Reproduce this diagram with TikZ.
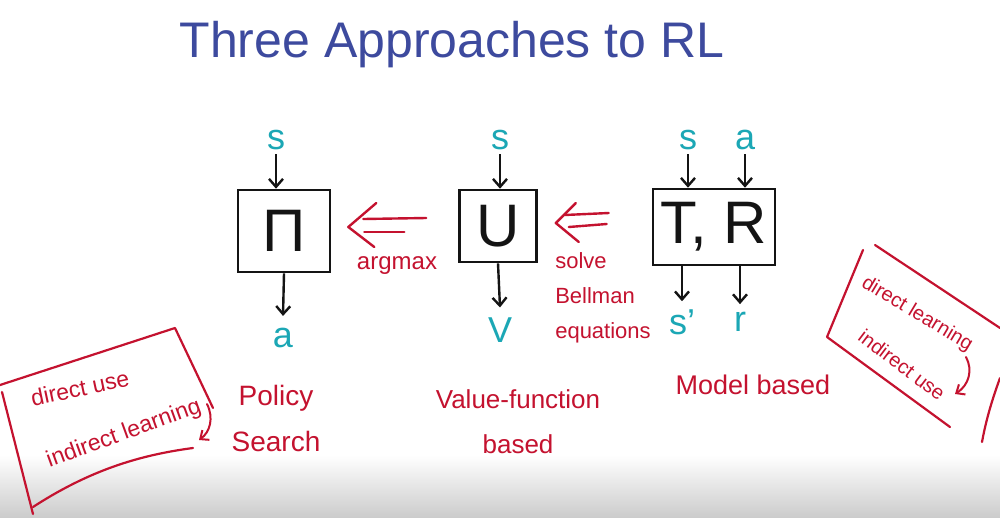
\documentclass[tikz,border=0pt]{standalone}
\usepackage{fontspec}
\setmainfont{Liberation Sans}
\usetikzlibrary{arrows.meta}
\definecolor{pen}{HTML}{141414}
\definecolor{inkred}{HTML}{C4122F}
\definecolor{inkcyan}{HTML}{1BA7B5}
\definecolor{inkblue}{HTML}{3D4A9E}
\begin{document}
\begin{tikzpicture}[x=1pt,y=-1pt,
  box/.style={draw=pen, line width=2.6pt, inner sep=0pt, text=pen, font=\fontsize{60}{60}\selectfont},
  var/.style={text=inkcyan, font=\fontsize{36}{36}\selectfont, inner sep=4pt},
  note/.style={text=inkred, align=center},
  arr/.style={draw=pen, line width=2.4pt, -{Straight Barb[length=8pt,width=14pt]}},
  dblline/.style={draw=inkred, line width=2.4pt, line cap=round, line join=round},
  frame/.style={draw=inkred, line width=2.2pt, line cap=round, line join=round},
  hook/.style={draw=inkred, line width=2pt, line cap=round, -{Straight Barb[length=7pt,width=12pt]}}]
\useasboundingbox (0,0) rectangle (1000,517);
\fill[white] (0,0) rectangle (1000,517);
\shade[top color=white, bottom color=black!20] (0,455) rectangle (1000,517);

% title
\node[text=inkblue, font=\fontsize{50}{50}\selectfont] (title) at (452,45) {Three Approaches to RL};

% boxes
\node[box, minimum width=92pt, minimum height=82pt] (pi) at (284,231) {Π};
\node[box, minimum width=77pt, minimum height=72pt] (U) at (498,226) {U};
\node[box, minimum width=122pt, minimum height=76pt] (TR) at (714,227) {T, R};

% inputs / outputs
\node[var] (s1) at (276,140) {s};
\node[var] (a1) at (283,338) {a};
\node[var] (s2) at (500,140) {s};
\node[var] (v2) at (500,330) {V};
\node[var] (s3) at (688,140) {s};
\node[var] (a3) at (745,140) {a};
\node[var] (s4) at (682,322) {s'};
\node[var] (r4) at (740,322) {r};

\draw[arr] (s1.south) -- (s1.south |- pi.north);
\draw[arr] (pi.south) -- ([yshift=8pt]a1.north);
\draw[arr] (s2.south) -- (s2.south |- U.north);
\draw[arr] (U.south) -- ([yshift=6pt]v2.north);
\draw[arr] (s3.south) -- (s3.south |- TR.north);
\draw[arr] (a3.south) -- (a3.south |- TR.north);
\draw[arr] (s4.north |- TR.south) -- ([yshift=4pt]s4.north);
\draw[arr] (r4.north |- TR.south) -- ([yshift=4pt]r4.north);

% double arrows (U => Pi, T,R => U)
\coordinate (t1) at ([xshift=17pt,yshift=4pt]pi.east);
\draw[dblline] ([shift={(28,-24)}]t1) -- (t1) -- ([shift={(26,20)}]t1);
\draw[dblline] ([shift={(15,-8)}]t1) -- ([xshift=-32pt,yshift=8pt]U.west);
\draw[dblline] ([shift={(16,5)}]t1) -- ([shift={(56,5)}]t1);
\coordinate (t2) at ([xshift=18pt,yshift=3pt]U.east);
\draw[dblline] ([shift={(20,-20)}]t2) -- (t2) -- ([shift={(23,19)}]t2);
\draw[dblline] ([shift={(9,-8)}]t2) -- ([xshift=-43pt,yshift=14pt]TR.west);
\draw[dblline] ([shift={(13,4)}]t2) -- ([xshift=-45pt,yshift=3pt]TR.west);

% red labels
\node[note, font=\fontsize{24}{24}\selectfont] (argmax) at (397,266) {argmax};
\node[note, font=\fontsize{22}{35}\selectfont, align=left] (bell) at (603,298) {solve\\Bellman\\equations};
\node[note, font=\fontsize{28}{46}\selectfont] (ps) at (276,418) {Policy\\Search};
\node[note, font=\fontsize{26}{45}\selectfont] (vf) at (518,422) {Value-function\\based};
\node[note, font=\fontsize{27}{27}\selectfont] (mb) at (753,385) {Model based};

% left framed note
\draw[frame] (0,385) -- (175,328) -- (213,408);
\draw[frame] (193,448) .. controls (140,455) and (90,470) .. (33,507);
\draw[frame] (2,392) -- (33,514);
\node[note, font=\fontsize{23}{23}\selectfont, rotate=12] (du) at (80,388) {direct use};
\node[note, font=\fontsize{23}{23}\selectfont, rotate=20] (il) at (124,434) {indirect learning};
\coordinate (h1) at (207,404);
\coordinate (h2) at (199,440);
\draw[hook] (h1) .. controls (214,418) and (210,432) .. (h2);

% right framed note
\draw[frame] (875,245) -- (1000,328);
\draw[frame] (1000,378) .. controls (992,400) and (986,420) .. (982,442);
\draw[frame] (863,250) -- (827,337) -- (950,427);
\node[note, font=\fontsize{20}{20}\selectfont, rotate=-31] (dl) at (917,314) {direct learning};
\node[note, font=\fontsize{20}{20}\selectfont, rotate=-37] (iu) at (902,365) {indirect use};
\coordinate (h3) at (966,357);
\coordinate (h4) at (955,394);
\draw[hook] (h3) .. controls (973,370) and (969,385) .. (h4);
\end{tikzpicture}
\end{document}
